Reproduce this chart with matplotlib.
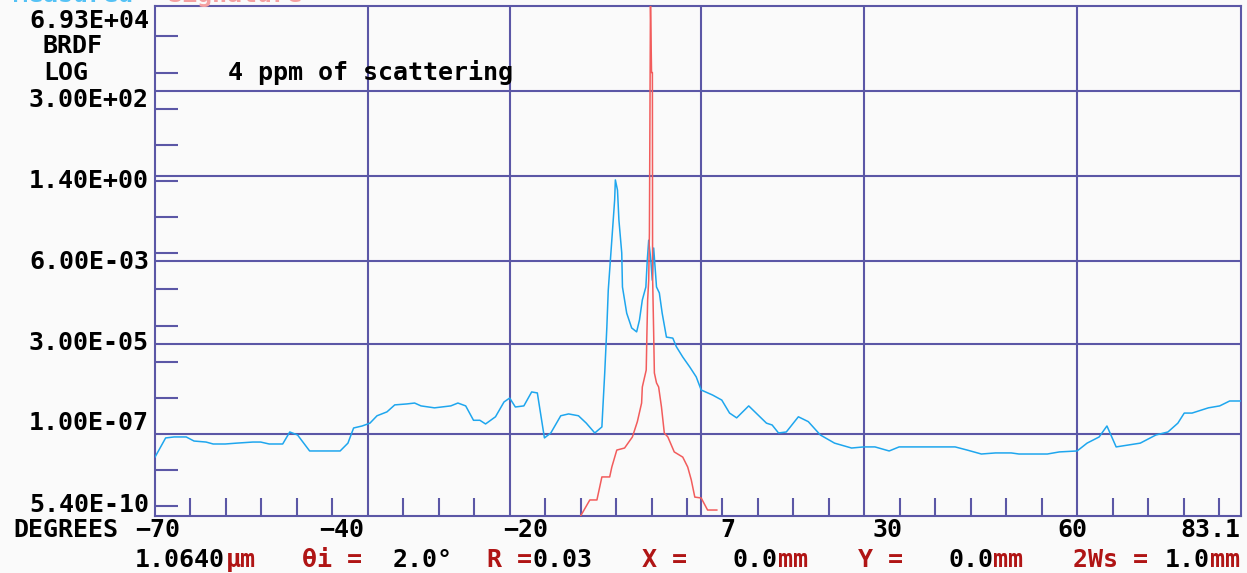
import matplotlib
matplotlib.use("Agg")
import matplotlib.pyplot as plt
from matplotlib.ticker import FixedLocator, NullFormatter

# ---- data ----
x_min, x_max = -70, 83.1
y_bottom, y_top = 5.40e-10, 6.93e+04
x_grid = [-40, -20, 7, 30, 60]
x_labels = [-70, -40, -20, 7, 30, 60, 83.1]
y_grid = [3.00e+02, 1.40e+00, 6.00e-03, 3.00e-05, 1.00e-07]

# measured scatter (blue)
scat_deg = [-70.0, -68.5, -67.3, -65.6, -64.5, -62.8, -61.8, -60.1, -58.5, -56.2,
            -55.1, -53.9, -52.0, -51.0, -49.9, -48.2, -46.2, -43.9, -42.8, -42.0,
            -40.8, -39.7, -38.7, -37.3, -36.2, -34.5, -33.4, -32.5, -30.6, -28.3,
            -27.3, -26.2, -25.1, -24.2, -23.4, -22.0, -20.8, -20.0, -19.2, -18.0,
            -16.9, -16.1, -15.1, -14.2, -12.8, -11.7, -10.3, -9.2, -8.0, -7.0,
            -6.9, -6.6, -6.3, -6.1, -5.8, -5.5, -5.2, -5.1, -4.8, -4.6,
            -4.2, -4.1, -3.5, -2.8, -2.1, -1.7, -1.3, -0.8, -0.6, -0.4,
            -0.1, 0.1, 0.3, 0.6, 0.7, 1.1, 1.5, 2.1, 3.0, 3.5,
            4.4, 5.4, 6.3, 7.0, 8.6, 9.9, 11.0, 12.0, 13.7, 16.2,
            17.0, 17.9, 19.0, 20.7, 22.1, 23.8, 25.8, 28.2, 29.9, 31.5,
            33.5, 34.9, 38.3, 42.8, 44.5, 46.5, 48.5, 50.7, 51.8, 54.1,
            55.8, 57.5, 60.0, 61.4, 63.1, 64.2, 65.5, 68.9, 71.1, 72.8,
            74.2, 75.1, 76.2, 78.5, 80.1, 81.5, 83.1]
scat_brdf = [2.3e-8, 7.8e-8, 8.3e-8, 8.3e-8, 6.4e-8, 6.0e-8, 5.3e-8, 5.3e-8, 5.6e-8, 6.0e-8,
             6.0e-8, 5.3e-8, 5.3e-8, 1.14e-7, 9.4e-8, 3.4e-8, 3.4e-8, 3.4e-8, 5.6e-8, 1.47e-7,
             1.67e-7, 2.0e-7, 3.2e-7, 4.1e-7, 6.4e-7, 6.8e-7, 7.2e-7, 6.0e-7, 5.3e-7, 6.0e-7,
             7.2e-7, 6.0e-7, 2.4e-7, 2.4e-7, 1.9e-7, 3.0e-7, 7.7e-7, 9.9e-7, 5.6e-7, 6.0e-7,
             1.46e-6, 1.37e-6, 7.8e-8, 1.07e-7, 3.2e-7, 3.6e-7, 3.2e-7, 2.0e-7, 1.07e-7, 1.57e-7,
             3.8e-7, 4.9e-6, 9.1e-5, 9.6e-4, 6.5e-3, 4.4e-2, 0.30, 1.07, 0.56, 8.3e-2,
             1.02e-2, 1.17e-3, 2.2e-4, 8.6e-5, 6.7e-5, 1.43e-4, 5.1e-4, 1.17e-3, 6.5e-3, 2.3e-2,
             6.5e-3, 1.8e-3, 1.4e-2, 2.2e-3, 1.17e-3, 8.0e-4, 2.2e-4, 4.8e-5, 4.5e-5, 2.6e-5,
             1.35e-5, 7.1e-6, 3.8e-6, 1.65e-6, 1.2e-6, 8.7e-7, 3.8e-7, 2.8e-7, 6.0e-7, 2.0e-7,
             1.78e-7, 1.07e-7, 1.14e-7, 3.0e-7, 2.2e-7, 9.4e-8, 5.6e-8, 4.1e-8, 4.4e-8, 4.4e-8,
             3.4e-8, 4.4e-8, 4.4e-8, 4.4e-8, 3.6e-8, 2.8e-8, 3.0e-8, 3.0e-8, 2.8e-8, 2.8e-8,
             2.8e-8, 3.2e-8, 3.4e-8, 5.6e-8, 8.3e-8, 1.67e-7, 4.4e-8, 5.6e-8, 9.4e-8, 1.14e-7,
             2.0e-7, 3.8e-7, 3.8e-7, 5.3e-7, 6.0e-7, 8.2e-7, 8.2e-7]

# signature (red)
sig_deg = [-10.1, -8.7, -7.7, -7.0, -5.9, -5.6, -4.9, -3.8, -2.7, -2.0,
           -1.4, -1.3, -0.75, -0.65, -0.55, -0.4, -0.3, -0.15, 0.0, 0.12,
           0.15, 0.3, 0.4, 0.7, 1.0, 1.4, 1.8, 2.3, 3.2, 4.4,
           5.1, 5.6, 6.1, 7.0, 7.9, 9.2]
sig_brdf = [5.0e-10, 1.5e-9, 1.5e-9, 6.5e-9, 6.5e-9, 1.22e-8, 3.6e-8, 4.1e-8, 8.3e-8, 2.2e-7,
            7.2e-7, 2.0e-6, 5.9e-6, 6.2e-5, 5.1e-4, 1.8e-3, 3.6e-2, 1.0e5, 1.0e3, 1.0e3,
            2.2e-3, 6.2e-5, 4.9e-6, 2.6e-6, 2.0e-6, 5.6e-7, 1.07e-7, 8.3e-8, 3.2e-8, 2.3e-8,
            1.22e-8, 5.4e-9, 1.8e-9, 1.7e-9, 7.9e-10, 7.9e-10]

W, H = 1247, 573
frame = '#5b57a6'
blue = '#1ea6ee'
red = '#f25c5c'
dark_red = '#b01515'
font = dict(family='DejaVu Sans Mono', fontweight='bold', fontsize=18)

fig = plt.figure(figsize=(W / 100, H / 100), dpi=100, facecolor='#fafafa')
ax = fig.add_axes([155 / W, (H - 516) / H, (1241 - 155) / W, 510 / H])
ax.set_facecolor('#fafafa')

ax.plot(scat_deg, scat_brdf, color=blue, lw=1.1, zorder=3)
ax.plot(sig_deg, sig_brdf, color=red, lw=1.1, zorder=4)

ax.set_yscale('log')
ax.set_xlim(x_min, x_max)
ax.set_ylim(y_bottom, y_top)

# grid lines at labelled values, short ticks inside
ax.set_xticks(x_grid)
ax.set_yticks(y_grid)
ax.yaxis.set_minor_locator(FixedLocator([10.0 ** k for k in range(-9, 5)]))
ax.yaxis.set_minor_formatter(NullFormatter())
ax.xaxis.set_minor_locator(FixedLocator(list(range(-65, 81, 5))))
ax.grid(which='major', color=frame, lw=1.5)
ax.tick_params(which='major', length=0, labelleft=False, labelbottom=False)
ax.tick_params(axis='y', which='minor', direction='in', length=16.5, width=1.5, color=frame)
ax.tick_params(axis='x', which='minor', direction='in', length=13, width=1.5, color=frame)
for s in ax.spines.values():
    s.set_color(frame)
    s.set_linewidth(1.5)


def put(x, y, s, color='black', ha='left'):
    # x, y in pixels from the top-left corner, y = text row centre
    fig.text(x / W, 1 - (y + 8) / H, s, color=color, ha=ha, va='baseline', **font)


# header line, cut off by the top edge in the original
fig.text(13 / W, 1 - 1.8 / H, 'Measured', color='#55c2f5', ha='left', va='baseline', **font)
fig.text(167 / W, 1 - 1.8 / H, 'Signature', color='#f5a0a0', ha='left', va='baseline', **font)

# y labels
put(149, 20, f'{y_top:.2E}', ha='right')
put(43, 45, 'BRDF')
put(43, 72, 'LOG')
for v, row in zip(y_grid, [99, 180, 261, 342, 422]):
    put(149, row, f'{v:.2E}', ha='right')
put(149, 504, f'{y_bottom:.2E}', ha='right')
put(228, 72, '4 ppm of scattering')

# x labels
put(13, 529, 'DEGREES')
for v, px in zip(x_labels, [135, 319, 503, 720, 872, 1057, 1180]):
    put(px, 529, f'{v:g}'.replace('-', '\u2212'))

# bottom info line
put(135, 559, '1.0640')
put(226, 559, '\u03bcm', color=dark_red)
put(302, 559, '\u03b8i =', color=dark_red)
put(393, 559, '2.0\u00b0')
put(487, 559, 'R =', color=dark_red)
put(533, 559, '0.03')
put(642, 559, 'X =', color=dark_red)
put(733, 559, '0.0')
put(778, 559, 'mm', color=dark_red)
put(858, 559, 'Y =', color=dark_red)
put(948, 559, '0.0')
put(993, 559, 'mm', color=dark_red)
put(1073, 559, '2Ws =', color=dark_red)
put(1165, 559, '1.0')
put(1210, 559, 'mm', color=dark_red)

plt.savefig('out.png', dpi=100, facecolor=fig.get_facecolor())
